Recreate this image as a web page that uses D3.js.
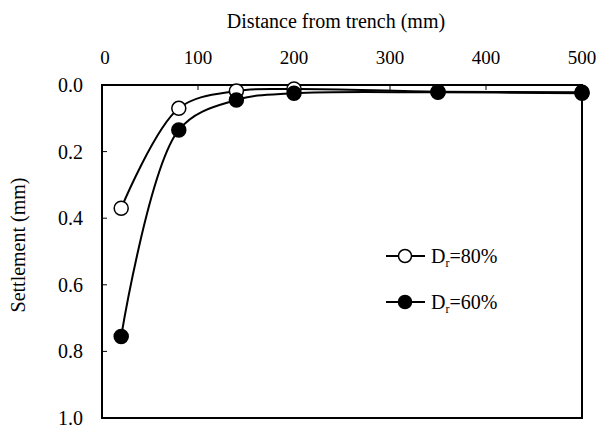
<!DOCTYPE html>
<html>
<head>
<meta charset="utf-8">
<script src="https://cdnjs.cloudflare.com/ajax/libs/d3/7.8.5/d3.min.js"></script>
<style>
  body { margin: 0; background: #fff; }
  text { font-family: "Liberation Serif", "Times New Roman", serif; fill: #000; }
</style>
</head>
<body>
<div id="chart"></div>
<script>
var distance = [20, 80, 140, 200, 350, 500];
var settle80 = [0.37, 0.07, 0.018, 0.012, 0.02, 0.022];
var settle60 = [0.755, 0.135, 0.045, 0.025, 0.022, 0.025];
var xTicks = [0, 100, 200, 300, 400, 500];
var yTicks = [0.0, 0.2, 0.4, 0.6, 0.8, 1.0];

var width = 600, height = 430;
var plotLeft = 102, plotRight = 582, plotTop = 85, plotBottom = 418;

var svg = d3.select('#chart').append('svg')
  .attr('width', width)
  .attr('height', height);

var x = d3.scaleLinear().domain([0, 500]).range([plotLeft, plotRight]);
var y = d3.scaleLinear().domain([0, 1]).range([plotTop, plotBottom]);

// frame
svg.append('rect')
  .attr('x', plotLeft).attr('y', plotTop)
  .attr('width', plotRight - plotLeft).attr('height', plotBottom - plotTop)
  .attr('fill', 'none').attr('stroke', '#000').attr('stroke-width', 2);

// ticks inside the frame
svg.selectAll('.xtick').data(xTicks.slice(1, -1)).enter().append('line')
  .attr('x1', function(d){ return x(d); }).attr('x2', function(d){ return x(d); })
  .attr('y1', plotTop).attr('y2', plotTop + 5)
  .attr('stroke', '#000').attr('stroke-width', 1);

svg.selectAll('.ytick').data(yTicks.slice(1, -1)).enter().append('line')
  .attr('x1', plotLeft).attr('x2', plotLeft + 5)
  .attr('y1', function(d){ return y(d); }).attr('y2', function(d){ return y(d); })
  .attr('stroke', '#000').attr('stroke-width', 1);

svg.selectAll('.xlab').data(xTicks).enter().append('text')
  .attr('x', function(d){ return x(d) + (d === 0 ? 3 : 0); })
  .attr('y', 64)
  .attr('text-anchor', 'middle')
  .attr('font-size', 19)
  .text(function(d){ return d; });

svg.selectAll('.ylab').data(yTicks).enter().append('text')
  .attr('x', 83)
  .attr('y', function(d){ return y(d) + 7; })
  .attr('text-anchor', 'end')
  .attr('font-size', 20)
  .text(function(d){ return d.toFixed(1); });

svg.append('text')
  .attr('x', 336).attr('y', 28)
  .attr('text-anchor', 'middle')
  .attr('font-size', 20)
  .text('Distance from trench (mm)');

svg.append('text')
  .attr('transform', 'translate(25,245) rotate(-90)')
  .attr('text-anchor', 'middle')
  .attr('font-size', 20)
  .text('Settlement (mm)');

var line = d3.line()
  .x(function(d){ return x(d[0]); })
  .y(function(d){ return y(d[1]); })
  .curve(d3.curveCatmullRom.alpha(0.5));

var series = [
  {values: settle80, fill: '#fff'},
  {values: settle60, fill: '#000'}
];

series.forEach(function(s){
  var pts = distance.map(function(d, i){ return [d, s.values[i]]; });
  svg.append('path')
    .datum(pts)
    .attr('d', line)
    .attr('fill', 'none')
    .attr('stroke', '#000')
    .attr('stroke-width', 2);
});

series.forEach(function(s){
  var pts = distance.map(function(d, i){ return [d, s.values[i]]; });
  svg.selectAll(null).data(pts).enter().append('circle')
    .attr('cx', function(d){ return x(d[0]); })
    .attr('cy', function(d){ return y(d[1]); })
    .attr('r', 7)
    .attr('fill', s.fill)
    .attr('stroke', '#000')
    .attr('stroke-width', 1.5);
});

// legend
var legendItems = [
  {label: '80%', fill: '#fff', y: 256},
  {label: '60%', fill: '#000', y: 302}
];

legendItems.forEach(function(item){
  svg.append('line')
    .attr('x1', 386).attr('x2', 425)
    .attr('y1', item.y).attr('y2', item.y)
    .attr('stroke', '#000').attr('stroke-width', 2);
  svg.append('circle')
    .attr('cx', 405).attr('cy', item.y).attr('r', 6.5)
    .attr('fill', item.fill).attr('stroke', '#000').attr('stroke-width', 1.5);
  var t = svg.append('text')
    .attr('x', 431).attr('y', item.y + 7)
    .attr('font-size', 20);
  t.append('tspan').text('D');
  t.append('tspan').attr('font-size', 12).attr('dy', 4).text('r');
  t.append('tspan').attr('dy', -4).text('=' + item.label);
});
</script>
</body>
</html>
